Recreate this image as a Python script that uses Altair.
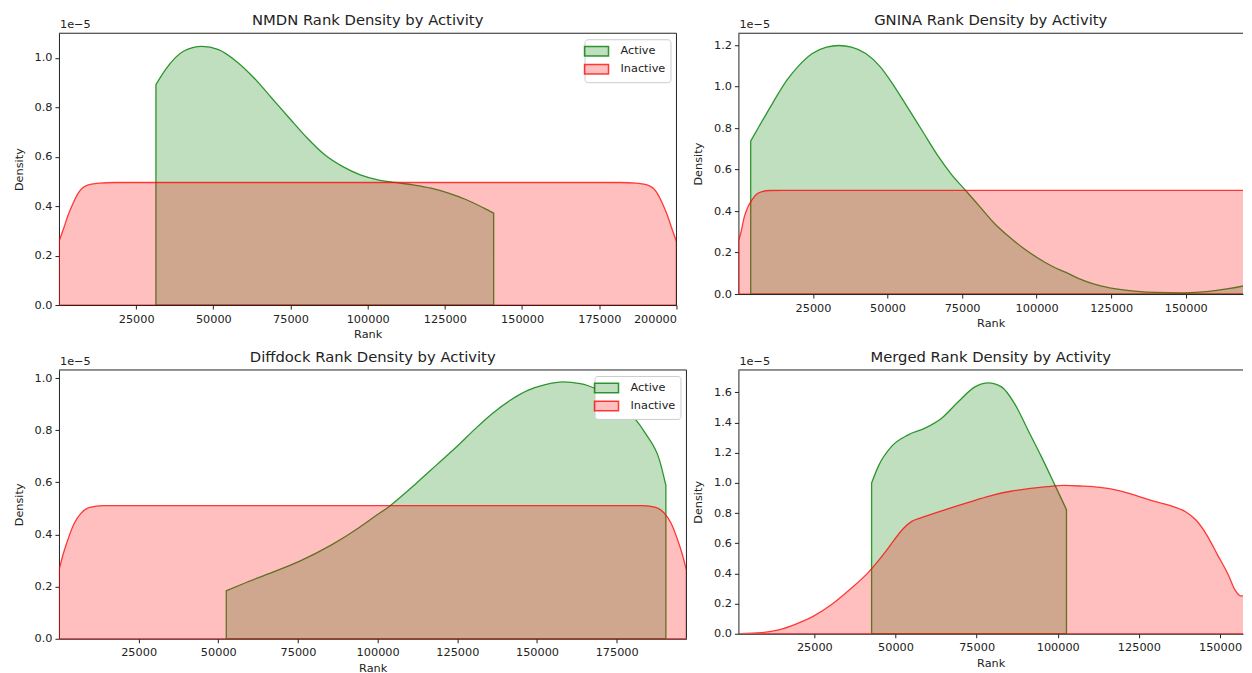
import altair as alt
import pandas as pd

FONT = "DejaVu Sans"
GROUPS = ["Active", "Inactive"]
FILLS = ["rgba(0,128,0,0.25)", "rgba(255,0,0,0.25)"]
STROKES = ["rgba(0,128,0,0.8)", "rgba(255,0,0,0.75)"]
INK = "#222222"

# ---------------- NMDN ----------------
nmdn_active_x = [31400, 34500, 40300, 46300, 51700, 57500, 63200, 68900, 74600, 80400, 86100,
                 91800, 97600, 103300, 109000, 114800, 120500, 126200, 132000, 137700, 140800]
nmdn_active_y = [0.892, 0.953, 1.027, 1.047, 1.034, 0.986, 0.919, 0.838, 0.757, 0.676, 0.608,
                 0.561, 0.527, 0.507, 0.496, 0.486, 0.473, 0.453, 0.426, 0.392, 0.372]
nmdn_inactive_x = [1, 1500, 3000, 4500, 5900, 8700, 13000, 18000, 182000, 187000, 191300,
                   194100, 195500, 197000, 198500, 200000]
nmdn_inactive_y = [0.257, 0.31, 0.365, 0.41, 0.446, 0.482, 0.493, 0.496, 0.496, 0.493, 0.482,
                   0.446, 0.41, 0.365, 0.31, 0.257]

# ---------------- GNINA ----------------
gnina_active_x = [4120, 7000, 11580, 16370, 19960, 24750, 29540, 33730, 37930, 42720, 47520,
                  52310, 57110, 61900, 66700, 71490, 76290, 81080, 85880, 90670, 95470, 100260,
                  105060, 109850, 115840, 121840, 127830, 133820, 139810, 149400, 157790,
                  163780, 170970, 178000, 185000]
gnina_active_y = [0.737, 0.81, 0.923, 1.033, 1.096, 1.159, 1.19, 1.198, 1.19, 1.159, 1.096,
                  1.0, 0.891, 0.781, 0.671, 0.576, 0.498, 0.419, 0.34, 0.277, 0.222, 0.175,
                  0.135, 0.104, 0.065, 0.038, 0.022, 0.013, 0.008, 0.006, 0.013,
                  0.025, 0.044, 0.07, 0.1]
gnina_inactive_x = [1, 780, 1970, 3170, 4360, 6160, 7960, 10360, 15000, 185000, 189640,
                    192040, 193840, 195640, 196830, 198030, 199220, 200000]
gnina_inactive_y = [0.254, 0.293, 0.372, 0.419, 0.45, 0.482, 0.494, 0.499, 0.5, 0.5, 0.499,
                    0.494, 0.482, 0.45, 0.419, 0.372, 0.293, 0.254]

# ---------------- Diffdock ----------------
diff_active_x = [52500, 58000, 65000, 75400, 85800, 94100, 99300, 103500, 108000, 111800,
                 118500, 125200, 130600, 136100, 141600, 147100, 152600, 158100, 163600,
                 169100, 174600, 180100, 184300, 188400, 190450]
diff_active_y = [0.184, 0.212, 0.246, 0.297, 0.362, 0.426, 0.471, 0.506, 0.552, 0.593,
                 0.667, 0.741, 0.805, 0.865, 0.915, 0.953, 0.975, 0.985, 0.979,
                 0.956, 0.918, 0.854, 0.783, 0.687, 0.588]
diff_inactive_x = [1, 1375, 2750, 4810, 6875, 9625, 13750, 183150, 187275, 190025, 192090,
                   194150, 195525, 196900]
diff_inactive_y = [0.263, 0.327, 0.379, 0.443, 0.481, 0.504, 0.511, 0.511, 0.504, 0.481, 0.443,
                   0.379, 0.327, 0.263]

# ---------------- Merged ----------------
merged_active_x = [42640, 44700, 48800, 53940, 59080, 64210, 69330, 74470, 78570, 82670,
                   86790, 90890, 94990, 99100, 102690]
merged_active_y = [1.0, 1.11, 1.242, 1.319, 1.363, 1.429, 1.538, 1.637, 1.663, 1.637,
                   1.523, 1.348, 1.173, 0.987, 0.823]
merged_inactive_x = [1910, 8500, 14000, 19500, 25000, 30500, 36000, 41500, 47000, 52500, 55000,
                     58000, 63500, 69000, 74500, 80000, 85500, 91000, 96500, 102000, 107500,
                     113000, 118500, 124000, 129500, 135000, 139400, 142600, 145900, 149200,
                     152500, 154800, 156400, 158000, 163000, 170000, 180000, 190000, 196000]
merged_inactive_y = [0.0, 0.007, 0.026, 0.066, 0.12, 0.197, 0.295, 0.404, 0.546, 0.70, 0.745,
                     0.77, 0.81, 0.848, 0.885, 0.92, 0.945, 0.962, 0.975, 0.984, 0.979,
                     0.97, 0.951, 0.918, 0.879, 0.848, 0.809, 0.754, 0.656, 0.525,
                     0.393, 0.284, 0.251, 0.251, 0.24, 0.21, 0.17, 0.13, 0.1]


def panel(title, ax, ay, ix, iy, xdom, ydom, xticks, yticks, w, h, cut_right):
    act = pd.DataFrame({"Rank": ax, "Density": ay, "Activity": "Active"})
    ina = pd.DataFrame({"Rank": ix, "Density": iy, "Activity": "Inactive"})
    if cut_right:
        leg = None
    else:
        leg = alt.Legend(
            title=None, orient="top-right", offset=6, padding=5, fillColor="white",
            strokeColor="#cccccc", cornerRadius=3, labelFont=FONT, labelFontSize=11.3,
            labelColor=INK, symbolType="M-2,-0.8L2,-0.8L2,0.8L-2,0.8Z",
            symbolSize=144, symbolStrokeWidth=1.5, rowPadding=2, labelOffset=17,
        )
    xs = alt.Scale(domain=xdom, nice=False, zero=False)
    ys = alt.Scale(domain=ydom, nice=False, zero=True)
    x_axis = alt.Axis(values=xticks, title="Rank", format="d", labelOverlap=False)
    y_axis = alt.Axis(values=yticks, format=".1f", title="Density", labelOverlap=False)
    x = alt.X("Rank:Q", scale=xs, axis=x_axis)
    y = alt.Y("Density:Q", scale=ys, axis=y_axis)
    fill = alt.Fill("Activity:N", scale=alt.Scale(domain=GROUPS, range=FILLS), legend=leg)
    stroke = alt.Stroke("Activity:N", scale=alt.Scale(domain=GROUPS, range=STROKES), legend=leg)
    a = alt.Chart(act).mark_area(interpolate="monotone", strokeWidth=1.3, clip=True).encode(
        x=x, y=y, fill=fill, stroke=stroke)
    i = alt.Chart(ina).mark_area(interpolate="monotone", strokeWidth=1.3, clip=True).encode(
        x=x, y=y, fill=fill, stroke=stroke)
    t = alt.Chart(pd.DataFrame({"t": ["1e\u22125"]})).mark_text(
        align="left", baseline="alphabetic", font=FONT, fontSize=11.3, color=INK
    ).encode(x=alt.value(1), y=alt.value(-5), text="t:N")
    frame_df = pd.DataFrame({"xmax": [xdom[1]], "ymax": [ydom[1]]})
    top = alt.Chart(frame_df).mark_rule(color=INK, strokeWidth=1).encode(
        y=alt.Y("ymax:Q", scale=ys, axis=y_axis))
    layers = [a, i, t, top]
    if not cut_right:
        right = alt.Chart(frame_df).mark_rule(color=INK, strokeWidth=1).encode(
            x=alt.X("xmax:Q", scale=xs, axis=x_axis))
        layers.append(right)
    return alt.layer(*layers).properties(
        width=w, height=h,
        title=alt.TitleParams(title, offset=-9),
    )


tl = panel("NMDN Rank Density by Activity", nmdn_active_x, nmdn_active_y,
           nmdn_inactive_x, nmdn_inactive_y, [1, 200000], [0, 1.1],
           [25000, 50000, 75000, 100000, 125000, 150000, 175000, 200000],
           [0, 0.2, 0.4, 0.6, 0.8, 1.0], 618, 272, False)
tr = panel("GNINA Rank Density by Activity", gnina_active_x, gnina_active_y,
           gnina_inactive_x, gnina_inactive_y, [1, 169200], [0, 1.257],
           [25000, 50000, 75000, 100000, 125000, 150000],
           [0, 0.2, 0.4, 0.6, 0.8, 1.0, 1.2], 505, 261, True)
bl = panel("Diffdock Rank Density by Activity", diff_active_x, diff_active_y,
           diff_inactive_x, diff_inactive_y, [1, 196900], [0, 1.031],
           [25000, 50000, 75000, 100000, 125000, 150000, 175000],
           [0, 0.2, 0.4, 0.6, 0.8, 1.0], 628, 269, False)
br = panel("Merged Rank Density by Activity", merged_active_x, merged_active_y,
           merged_inactive_x, merged_inactive_y, [1600, 157080], [0, 1.749],
           [25000, 50000, 75000, 100000, 125000, 150000],
           [0, 0.2, 0.4, 0.6, 0.8, 1.0, 1.2, 1.4, 1.6], 505, 264, True)

chart = alt.concat(
    tl, tr, bl, br, columns=2, spacing={"row": 65, "column": 52}, bounds="flush"
).resolve_scale(
    fill="independent", stroke="independent"
).properties(
    padding={"left": 5, "top": 5, "right": 0, "bottom": 0}
).configure_view(
    strokeOpacity=0
).configure_axis(
    domain=True, domainColor=INK, domainWidth=1, grid=False, tickColor=INK, tickSize=4,
    labelFont=FONT, labelFontSize=11.3, labelColor=INK,
    titleFont=FONT, titleFontSize=11.3, titleFontWeight="normal", titleColor=INK,
).configure_axisX(
    labelPadding=4, titlePadding=4
).configure_axisY(
    labelPadding=3, titlePadding=10
).configure_title(
    font=FONT, fontSize=14.8, fontWeight="normal", color=INK
)

chart.save("out.html", embed_options={"renderer": "svg", "actions": False})
